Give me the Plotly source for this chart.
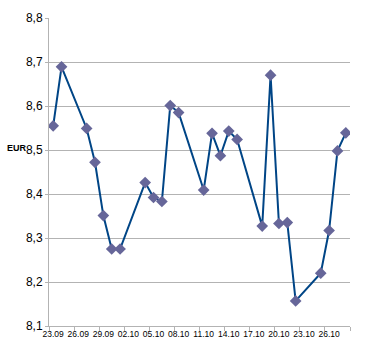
import plotly.graph_objects as go
import pandas as pd

dates = ["2010-09-23", "2010-09-24", "2010-09-27", "2010-09-28", "2010-09-29",
         "2010-09-30", "2010-10-01", "2010-10-04", "2010-10-05", "2010-10-06",
         "2010-10-07", "2010-10-08", "2010-10-11", "2010-10-12", "2010-10-13",
         "2010-10-14", "2010-10-15", "2010-10-18", "2010-10-19", "2010-10-20",
         "2010-10-21", "2010-10-22", "2010-10-25", "2010-10-26", "2010-10-27",
         "2010-10-28"]
values = [8.555, 8.689, 8.549, 8.472, 8.351,
          8.275, 8.275, 8.426, 8.392, 8.383,
          8.601, 8.585, 8.409, 8.538, 8.487,
          8.543, 8.524, 8.327, 8.670, 8.333,
          8.335, 8.157, 8.220, 8.317, 8.498,
          8.539]

tick_dates = ["2010-09-23", "2010-09-26", "2010-09-29", "2010-10-02",
              "2010-10-05", "2010-10-08", "2010-10-11", "2010-10-14",
              "2010-10-17", "2010-10-20", "2010-10-23", "2010-10-26"]
tick_labels = ["23.09", "26.09", "29.09", "02.10", "05.10", "08.10",
               "11.10", "14.10", "17.10", "20.10", "23.10", "26.10"]

y_label = "EUR"

# band boundaries (half a day before each tick date) for tick marks
boundaries = [(pd.Timestamp(d) - pd.Timedelta(hours=12)).strftime("%Y-%m-%d %H:%M")
              for d in tick_dates] + ["2010-10-28 12:00"]

grid = "#b3b3b3"

fig = go.Figure()
fig.add_trace(go.Scatter(
    x=dates, y=values, mode="lines+markers",
    line=dict(color="#004586", width=2),
    marker=dict(symbol="diamond", size=9, color="#666699",
                line=dict(width=0)),
    showlegend=False,
))

fig.update_layout(
    width=381, height=355,
    margin=dict(l=49, r=31, t=18, b=29),
    paper_bgcolor="white", plot_bgcolor="white",
    separators=", ",
    font=dict(family="Liberation Sans, Arial, sans-serif", color="black"),
    xaxis=dict(
        type="date",
        range=["2010-09-22 12:00", "2010-10-28 12:00"],
        tickmode="array", tickvals=tick_dates, ticktext=tick_labels,
        ticks="", showgrid=False, zeroline=False,
        showline=True, linecolor=grid, linewidth=1,
        tickfont=dict(size=8.5, color="black"),
        minor=dict(tickmode="array", tickvals=boundaries, ticks="outside",
                   ticklen=4, tickcolor=grid, tickwidth=1, showgrid=False),
    ),
    yaxis=dict(
        range=[8.1, 8.8], dtick=0.1, tick0=8.1, tickformat=".1f",
        showgrid=True, gridcolor=grid, gridwidth=1,
        zeroline=False, showline=True, linecolor=grid, linewidth=1,
        ticks="outside", ticklen=3, tickcolor=grid,
        tickfont=dict(size=12, color="black"),
    ),
    annotations=[dict(
        text="<b>" + y_label + "</b>", xref="paper", yref="paper",
        x=-0.106, y=0.578, xanchor="center", yanchor="middle",
        showarrow=False, font=dict(size=9, color="black"),
    )],
)

fig.write_html("out.html", config={"displayModeBar": False},
               post_script="document.body.style.margin='0';")
